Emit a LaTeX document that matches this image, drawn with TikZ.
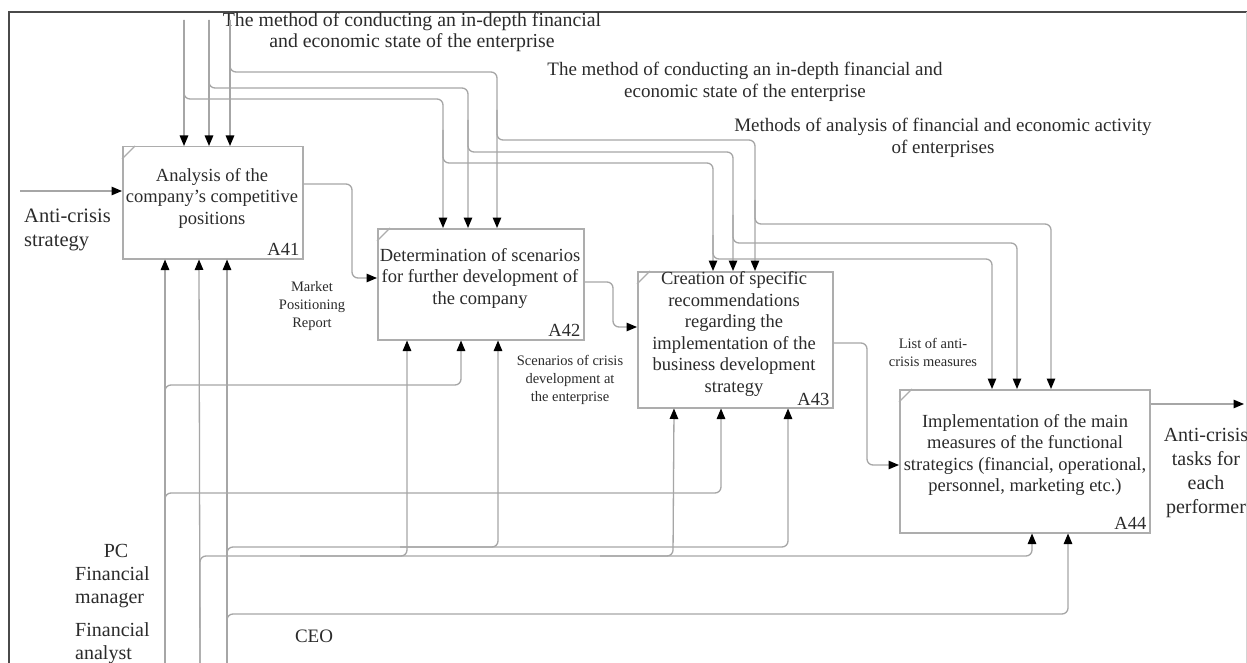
\documentclass[tikz,border=0pt]{standalone}
\usepackage{fontspec}
\setmainfont{Liberation Serif}
\usetikzlibrary{arrows.meta,calc}
\definecolor{linegray}{HTML}{A6A6A6}
\definecolor{boxgray}{HTML}{ADADAD}
\definecolor{txt}{HTML}{2B2B2B}
\definecolor{framec}{HTML}{4A4A4A}
\begin{document}
\begin{tikzpicture}[x=1pt,y=-1pt,
  line/.style={draw=linegray, line width=1.3pt, rounded corners=6pt},
  arr/.style={line, -{Triangle[length=10.5pt,width=8.5pt,color=black]}},
  box/.style={draw=boxgray, line width=1.5pt, inner sep=0pt, anchor=north west},
  boxtext/.style={text=txt, align=center, inner sep=0pt, font=\fontsize{18.5}{21.5}\selectfont},
  toptext/.style={text=txt, align=center, inner sep=0pt, font=\fontsize{19}{21.5}\selectfont},
  smalltext/.style={text=txt, align=center, inner sep=0pt, font=\fontsize{14.5}{18}\selectfont},
  sidetext/.style={text=txt, inner sep=0pt, font=\fontsize{20.5}{24}\selectfont},
  idx/.style={text=txt, inner sep=0pt, anchor=south east, font=\fontsize{18.5}{21.5}\selectfont},
  tick/.style={draw=boxgray, line width=1.2pt}
]
% canvas
\fill[white] (0,0) rectangle (1247,663);
\useasboundingbox (0,0) rectangle (1247,663);
\draw[framec, line width=1.6pt] (9,670) -- (9,12) -- (1252,12);
\draw[linegray!50, line width=0.8pt] (1246,12) -- (1246,670);

% boxes
\node[box, minimum width=180pt, minimum height=112pt] (A41) at (122,146) {};
\node[box, minimum width=206pt, minimum height=111pt] (A42) at (377,228) {};
\node[box, minimum width=195pt, minimum height=136pt] (A43) at (637,271) {};
\node[box, minimum width=250pt, minimum height=143pt] (A44) at (899,389) {};

\foreach \b in {A41,A42,A43,A44}{
  \draw[tick] ($(\b.north west)+(0,13)$) -- ($(\b.north west)+(13,0)$);
}

\node[boxtext] (A41t) at (212,198) {Analysis of the\\company's competitive\\positions};
\node[boxtext] (A42t) at (480,278) {Determination of scenarios\\for further development of\\the company};
\node[boxtext] (A43t) at (734,334) {Creation of specific\\recommendations\\regarding the\\implementation of the\\business development\\strategy};
\node[boxtext] (A44t) at (1025,455) {Implementation of the main\\measures of the functional\\strategics (financial, operational,\\personnel, marketing etc.)};

\node[idx] (A41n) at ($(A41.south east)+(-4,-4)$) {A41};
\node[idx] (A42n) at ($(A42.south east)+(-4,-4)$) {A42};
\node[idx] (A43n) at ($(A43.south east)+(-4,-3)$) {A43};
\node[idx] (A44n) at ($(A44.south east)+(-4,-4)$) {A44};

% top labels
\node[toptext, font=\fontsize{19.8}{21.5}\selectfont] (T1) at (412,32) {The method of conducting an in-depth financial\\and economic state of the enterprise};
\node[toptext] (T2) at (745,82) {The method of conducting an in-depth financial and\\economic state of the enterprise};
\node[toptext] (T3) at (943,138) {Methods of analysis of financial and economic activity\\of enterprises};

% source coordinates
\coordinate (s1) at (184,20);
\coordinate (s2) at (209,20);
\coordinate (s3) at (230,20);
\coordinate (m1) at (165,670);
\coordinate (m2) at (200,670);
\coordinate (m3) at (227,670);
\coordinate (in1) at (20,191);
\coordinate (out1) at (1244,404);

% controls
\draw[arr] (s3) -- ($(A41.north west)+(108,0)$);
\draw[arr] (s3) -- (230,72) -- (497,72) -- ($(A42.north west)+(120,0)$);
\draw[arr] (497,110) -- (497,140) -- (755,140) -- ($(A43.north west)+(118,0)$);
\draw[arr] (755,200) -- (755,224) -- (1051,224) -- ($(A44.north west)+(152,0)$);

\draw[arr] (s2) -- ($(A41.north west)+(87,0)$);
\draw[arr] (s2) -- (209,88) -- (468,88) -- ($(A42.north west)+(91,0)$);
\draw[arr] (468,120) -- (468,152) -- (733,152) -- ($(A43.north west)+(96,0)$);
\draw[arr] (733,215) -- (733,243) -- (1017,243) -- ($(A44.north west)+(118,0)$);

\draw[arr] (s1) -- ($(A41.north west)+(62,0)$);
\draw[arr] (s1) -- (184,99) -- (443,99) -- ($(A42.north west)+(66,0)$);
\draw[arr] (443,130) -- (443,163) -- (713,163) -- ($(A43.north west)+(76,0)$);
\draw[arr] (713,235) -- (713,259) -- (992,259) -- ($(A44.north west)+(93,0)$);

% mechanisms
\draw[arr] (m1) -- ($(A41.south west)+(43,0)$);
\draw[arr] (m1) -- (165,385) -- (461,385) -- ($(A42.south west)+(84,0)$);
\draw[arr] (m1) -- (165,493) -- (721,493) -- ($(A43.south west)+(84,0)$);

\draw[arr] (m2) -- ($(A41.south west)+(77,0)$);
\draw[arr] (m2) -- (200,556) -- (407,556) -- ($(A42.south west)+(30,0)$);
\draw[arr] (300,556) -- (673,556) -- ($(A43.south west)+(37,0)$);
\draw[arr] (600,556) -- (1032,556) -- ($(A44.south west)+(133,0)$);

\draw[arr] (m3) -- ($(A41.south west)+(105,0)$);
\draw[arr] (m3) -- (227,547) -- (498,547) -- ($(A42.south west)+(121,0)$);
\draw[arr] (400,547) -- (788,547) -- ($(A43.south west)+(151,0)$);
\draw[arr] (m3) -- (227,614) -- (1068,614) -- ($(A44.south west)+(169,0)$);

% inputs / outputs
\draw[arr] (in1) -- ($(A41.north west)+(0,45)$);
\draw[arr] ($(A41.north east)+(0,38)$) -- (352,184) -- (352,278) -- ($(A42.north west)+(0,50)$);
\draw[arr] ($(A42.north east)+(0,54)$) -- (613,282) -- (613,327) -- ($(A43.north west)+(0,56)$);
\draw[arr] ($(A43.north east)+(0,72)$) -- (867,343) -- (867,465) -- ($(A44.north west)+(0,76)$);
\draw[arr] ($(A44.north east)+(0,15)$) -- (out1);

% labels
\node[sidetext, align=left, anchor=west] (L1) at (24,230) {Anti-crisis\\strategy};
\node[smalltext] (L2) at (312,306) {Market\\Positioning\\Report};
\node[smalltext] (L3) at (570,380) {Scenarios of crisis\\development at\\the enterprise};
\node[smalltext] (L4) at (933,352) {List of anti-\\crisis measures};
\node[sidetext, align=center, font=\fontsize{20}{24}\selectfont] (L5) at (1206,473) {Anti-crisis\\tasks for\\each\\performer};
\node[sidetext, font=\fontsize{20}{23.5}\selectfont] (L6) at (116,551) {PC};
\node[sidetext, align=left, anchor=west, font=\fontsize{20}{23.5}\selectfont] (L7) at (75,587) {Financial\\manager};
\node[sidetext, align=left, anchor=west, font=\fontsize{20}{23.5}\selectfont] (L8) at (75,643) {Financial\\analyst};
\node[sidetext, font=\fontsize{19}{22}\selectfont] (L9) at (314,636) {CEO};
\end{tikzpicture}
\end{document}
